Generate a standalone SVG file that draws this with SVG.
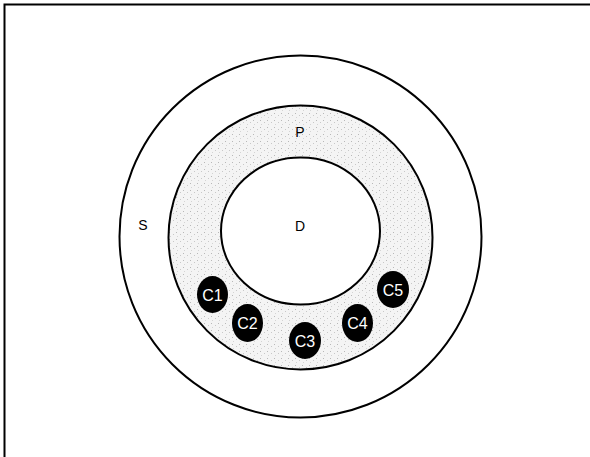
<svg xmlns="http://www.w3.org/2000/svg" width="590" height="457" viewBox="0 0 590 457">
<style>
.ln{fill:none;stroke:#000;stroke-width:2}
.lb{font-family:"Liberation Sans",Arial,sans-serif;font-size:14px;fill:#000;text-anchor:middle}
.c{fill:#000}
.cl{font-family:"Liberation Sans",Arial,sans-serif;font-size:16px;fill:#fff;text-anchor:middle}
</style>
<defs>
<pattern id="dots" width="7" height="7" patternUnits="userSpaceOnUse">
<rect width="7" height="7" fill="#f4f4f4"/>
<rect x="1" y="1" width="1" height="1" fill="#b8b8b8"/>
<rect x="5" y="3" width="1" height="1" fill="#c8c8c8"/>
<rect x="2" y="5" width="1" height="1" fill="#d4d4d4"/>
</pattern>
</defs>
<path d="M4.5,457 V4.5 H590" class="ln"/>
<g id="S"><circle cx="300.5" cy="236.5" r="181" class="ln"/><text x="143" y="230" class="lb">S</text></g>
<g id="P"><circle cx="300.5" cy="237.5" r="132" fill="url(#dots)" stroke="#000" stroke-width="2"/><text x="300" y="137" class="lb">P</text></g>
<g id="D"><ellipse cx="300.5" cy="231" rx="79.5" ry="73.5" fill="#fff" stroke="#000" stroke-width="2"/><text x="300" y="231" class="lb">D</text></g>
<g id="C1"><ellipse cx="212.5" cy="294.5" rx="15.5" ry="18.5" class="c"/><text x="212.5" y="300.5" class="cl">C1</text></g>
<g id="C2"><ellipse cx="247.5" cy="323" rx="15.5" ry="19" class="c"/><text x="247.5" y="329" class="cl">C2</text></g>
<g id="C3"><ellipse cx="305" cy="340.5" rx="16" ry="18.5" class="c"/><text x="305" y="346.5" class="cl">C3</text></g>
<g id="C4"><ellipse cx="357.5" cy="323" rx="15.5" ry="19" class="c"/><text x="357.5" y="329" class="cl">C4</text></g>
<g id="C5"><ellipse cx="393" cy="289.5" rx="16" ry="18.5" class="c"/><text x="393" y="295.5" class="cl">C5</text></g>
<g id="connectors"/>
</svg>
